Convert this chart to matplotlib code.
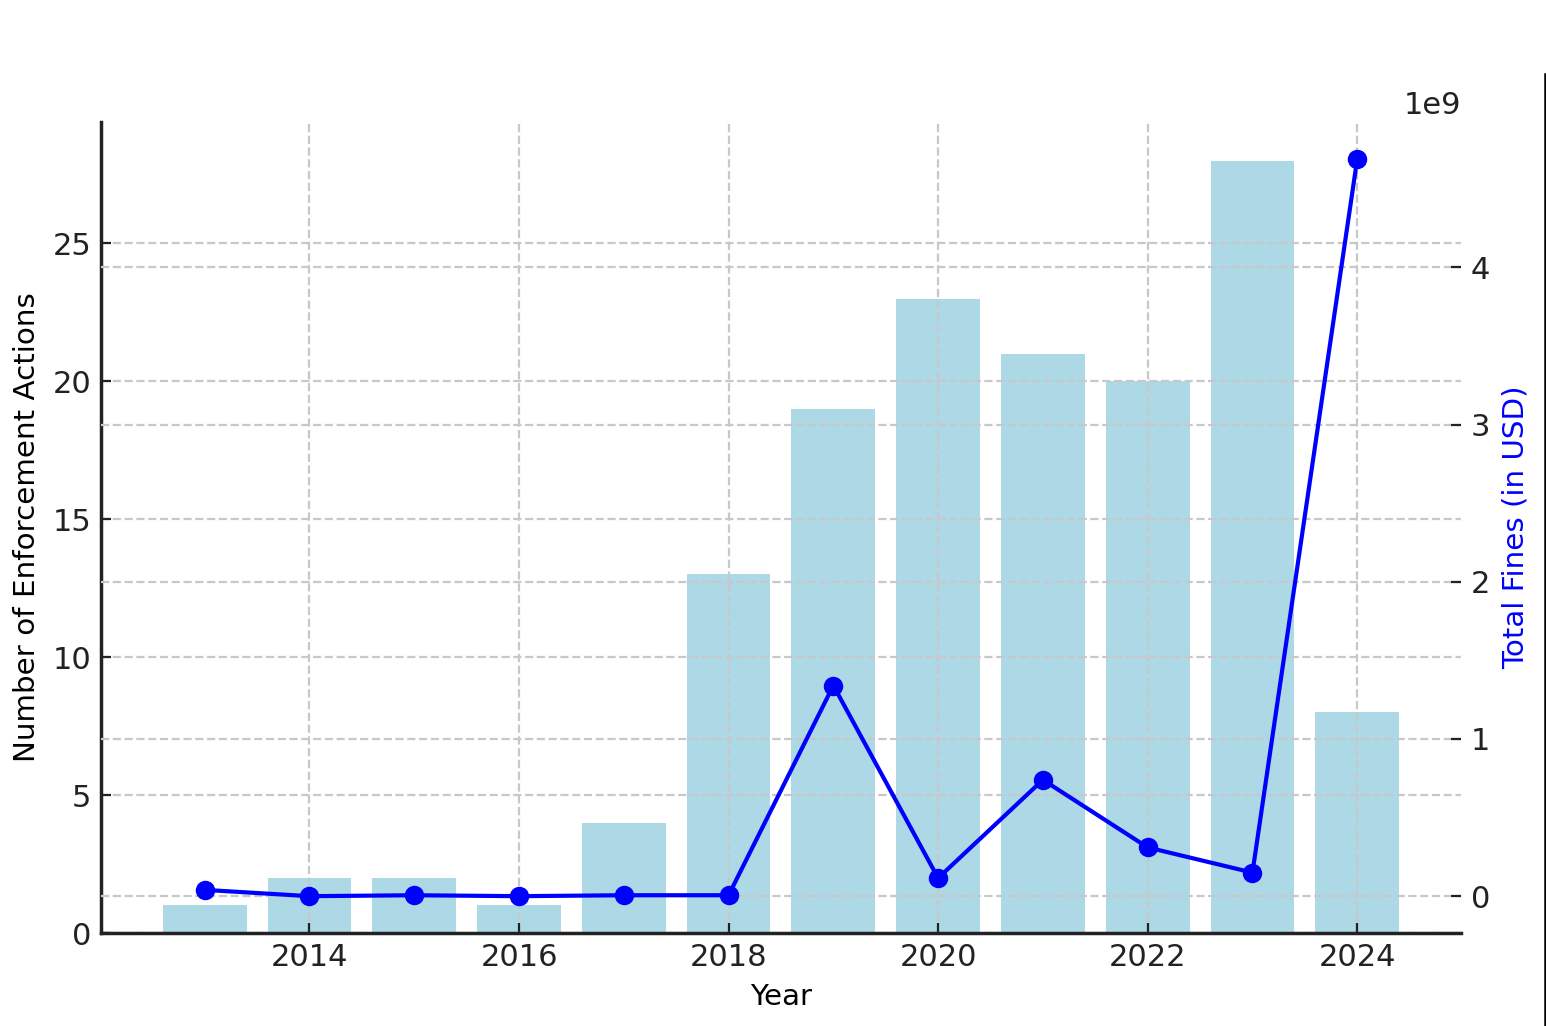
import numpy as np
import matplotlib.pyplot as plt
from matplotlib.lines import Line2D

years = [2013, 2014, 2015, 2016, 2017, 2018, 2019, 2020, 2021, 2022, 2023, 2024]
actions = [1, 2, 2, 1, 4, 13, 19, 23, 21, 20, 28, 8]
fines = [0.04e9, 0.0, 0.006e9, 0.0, 0.006e9, 0.006e9, 1.34e9, 0.115e9,
         0.74e9, 0.31e9, 0.15e9, 4.69e9]

plt.rcParams['font.size'] = 11
plt.rcParams['axes.labelsize'] = 10.6
plt.rcParams['axes.edgecolor'] = '#222222'
plt.rcParams['axes.linewidth'] = 1.25
plt.rcParams['xtick.color'] = '#222222'
plt.rcParams['ytick.color'] = '#222222'
plt.rcParams['xtick.direction'] = 'in'
plt.rcParams['ytick.direction'] = 'in'

fig = plt.figure(figsize=(7.73, 5.13), dpi=200)
ax1 = fig.add_axes([0.0653, 0.0906, 0.8797, 0.7905])

# bars for counts
ax1.bar(years, actions, width=0.8, color='lightblue')
ax1.set_xlabel('Year')
ax1.set_ylabel('Number of Enforcement Actions')
ax1.grid(True, linestyle='--', color='#c8c8c8', linewidth=0.8)
ax1.spines['top'].set_visible(False)
ax1.spines['right'].set_visible(False)

# line for fines on second axis
ax2 = ax1.twinx()
ax2.plot(years, fines, color='blue', marker='o', linewidth=1.5, markersize=6)
ax2.set_ylabel('Total Fines (in USD)', color='blue')
ax2.grid(True, axis='y', linestyle='--', color='#c8c8c8', linewidth=0.8)
for s in ax2.spines.values():
    s.set_visible(False)

# border line at the right edge of the picture
fig.add_artist(Line2D([0.9993, 0.9993], [0.0, 0.928], color='black', linewidth=0.9))

fig.savefig('out.png', dpi=200)
